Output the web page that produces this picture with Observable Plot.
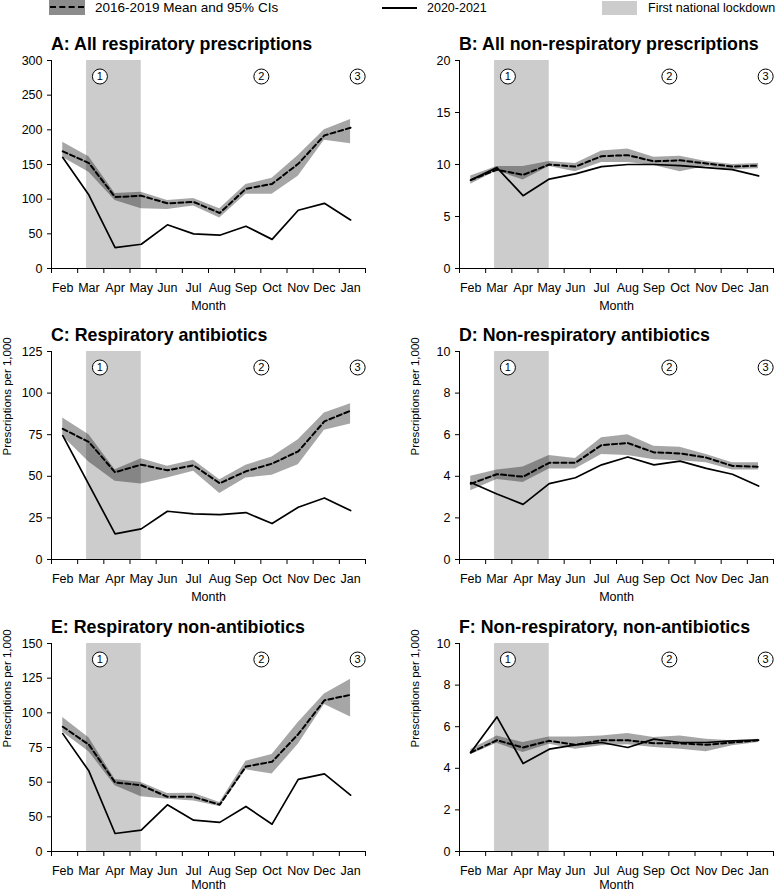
<!DOCTYPE html>
<html>
<head>
<meta charset="utf-8">
<script src="https://cdn.jsdelivr.net/npm/d3@7"></script>
<script src="https://cdn.jsdelivr.net/npm/@observablehq/plot@0.6"></script>
<style>
  html, body { margin: 0; padding: 0; background: #fff; }
  body { width: 777px; height: 891px; overflow: hidden; position: relative; font-family: "Liberation Sans", Arial, sans-serif; color: #000; }
  .panel { position: absolute; }
  .title { position: absolute; font-weight: bold; font-size: 17.8px; line-height: 17px; white-space: nowrap; }
  .legend-item { position: absolute; top: 0; height: 16px; }
  .legend-text { position: absolute; top: 1px; font-size: 12.5px; line-height: 14px; white-space: nowrap; }
</style>
</head>
<body>
<div id="root"></div>
<script>
// ---------- data ----------
const months = ["Feb","Mar","Apr","May","Jun","Jul","Aug","Sep","Oct","Nov","Dec","Jan"];

const lockdownStart = 1.34;   // in month units along the axis
const lockdownEnd = 3.43;
const eventLabels = ["1","2","3"];
const eventPos = [1.85, 8.02, 11.7];

// A: All respiratory prescriptions
const meanA = [169,152,103,105,94,96,80,115,122,151,192,203];
const hiA   = [182,161,108,110,98,101,86,121,130,163,200,215];
const loA   = [160,139,98,86,85,90,73,107,107,133,185,180];
const actA  = [160,106,30,35,63,50,48,61,42,84,94,70];

// B: All non-respiratory prescriptions
const meanB = [8.5,9.5,9.0,10.0,9.8,10.8,10.9,10.3,10.4,10.1,9.8,9.9];
const hiB   = [8.9,9.8,9.8,10.3,10.1,11.3,11.5,10.7,10.8,10.3,10.0,10.1];
const loB   = [8.1,9.4,8.5,9.8,9.3,10.2,10.2,9.9,9.3,9.8,9.5,9.6];
const actB  = [8.5,9.7,7.0,8.6,9.1,9.8,10.0,10.0,9.9,9.7,9.5,8.9];

// C: Respiratory antibiotics
const meanC = [78.5,70.6,52.4,57,53.6,56.6,45.8,53,57.6,65,83,89.4];
const hiC   = [85,75,54,60.6,56,59.6,48,56.6,61.6,72,88,93.6];
const loC   = [74,58.6,47,45.4,49,53,39.6,49,50.6,57,77.6,81.4];
const actC  = [74.4,45,15.4,18.4,29,27.4,27,28.2,21.6,31.4,37,29.4];

// D: Non-respiratory antibiotics
const meanD = [3.64,4.1,3.98,4.65,4.65,5.5,5.6,5.15,5.1,4.9,4.5,4.46];
const hiD   = [4.0,4.3,4.45,5.0,4.85,5.85,6.0,5.45,5.4,5.05,4.65,4.65];
const loD   = [3.3,3.85,3.7,4.35,4.35,5.05,5.0,4.8,4.75,4.65,4.3,4.3];
const actD  = [3.7,3.15,2.65,3.65,3.93,4.55,4.93,4.55,4.73,4.38,4.1,3.53];

// E: Respiratory non-antibiotics
const meanE = [90,77,49.8,47.8,39.4,39.4,33.7,61.3,64.7,84.6,109,113];
const hiE   = [96.6,82,52,49.8,41.8,42,35.3,65,70,93,113.5,124.3];
const loE   = [86,72,47.4,39.4,37.7,36.5,32.5,59,55.8,77.4,106,97];
const actE  = [85,58,13,15.4,33.7,22.6,21,32.5,19.7,52,56,40.6];

// F: Non-respiratory, non-antibiotics
const meanF = [4.76,5.35,5.0,5.32,5.13,5.35,5.35,5.2,5.2,5.13,5.24,5.35];
const hiF   = [4.9,5.55,5.24,5.5,5.5,5.55,5.67,5.48,5.55,5.4,5.32,5.4];
const loF   = [4.65,5.2,4.76,5.16,4.92,5.08,5.13,5.0,4.92,4.8,5.08,5.24];
const actF  = [4.76,6.47,4.23,4.92,5.13,5.24,5.0,5.4,5.24,5.24,5.32,5.35];

// tick values and labels
const ticksA = [0,50,100,150,200,250,300];
const ticksB = [0,5,10,15,20];
const ticksC = [0,25,50,75,100,125];
const ticksD = [0,2,4,6,8,10];
const ticksE = [0,25,50,75,100,125,150];
const tickLabelsE = ["0","50","50","75","100","125","150"]; // as printed in the original
const ticksF = [0,2,4,6,8,10];

const titles = [
  "A: All respiratory prescriptions",
  "B: All non-respiratory prescriptions",
  "C: Respiratory antibiotics",
  "D: Non-respiratory antibiotics",
  "E: Respiratory non-antibiotics",
  "F: Non-respiratory, non-antibiotics"
];
const yLabel = "Prescriptions per 1,000";
const xLabel = "Month";
const legendLabels = ["2016-2019 Mean and 95% CIs", "2020-2021", "First national lockdown"];

// ---------- layout ----------
const FONT = '"Liberation Sans", Arial, sans-serif';
const monthOffset = 0.43;
const plotH = 208, mTop = 10, mBottom = 46;
const rowPlotTop = [60, 350.5, 642.7];
const rowXLabelDy = [37, 37, 33];
const colGeom = [
  {left: 0, width: 390, ml: 51, mr: 25},
  {left: 390, width: 387, ml: 69, mr: 4}
];

const panels = [
  {title: titles[0], mean: meanA, hi: hiA, lo: loA, act: actA, yMax: 300, ticks: ticksA, labels: ticksA.map(String), ylab: false, row: 0, col: 0},
  {title: titles[1], mean: meanB, hi: hiB, lo: loB, act: actB, yMax: 20, ticks: ticksB, labels: ticksB.map(String), ylab: false, row: 0, col: 1},
  {title: titles[2], mean: meanC, hi: hiC, lo: loC, act: actC, yMax: 125, ticks: ticksC, labels: ticksC.map(String), ylab: true, row: 1, col: 0},
  {title: titles[3], mean: meanD, hi: hiD, lo: loD, act: actD, yMax: 10, ticks: ticksD, labels: ticksD.map(String), ylab: true, row: 1, col: 1},
  {title: titles[4], mean: meanE, hi: hiE, lo: loE, act: actE, yMax: 150, ticks: ticksE, labels: tickLabelsE, ylab: true, row: 2, col: 0},
  {title: titles[5], mean: meanF, hi: hiF, lo: loF, act: actF, yMax: 10, ticks: ticksF, labels: ticksF.map(String), ylab: true, row: 2, col: 1}
];

const events = eventLabels.map((l, i) => ({label: l, x: eventPos[i]}));
const root = document.getElementById("root");

function makePanel(p) {
  const g = colGeom[p.col];
  const plotTop = rowPlotTop[p.row];
  const rows = months.map((m, i) => ({x: i + monthOffset, mean: p.mean[i], hi: p.hi[i], lo: p.lo[i], act: p.act[i]}));
  const fmt = new Map(p.ticks.map((t, i) => [t, p.labels[i]]));
  const marks = [
    Plot.rect([[lockdownStart, lockdownEnd]], {x1: d => d[0], x2: d => d[1], y1: () => 0, y2: () => p.yMax, fill: "#cccccc"}),
    Plot.areaY(rows, {x: "x", y1: "lo", y2: "hi", fill: "#000", fillOpacity: 0.35}),
    Plot.line(rows, {x: "x", y: "mean", stroke: "#000", strokeWidth: 2, strokeDasharray: "5,3"}),
    Plot.line(rows, {x: "x", y: "act", stroke: "#000", strokeWidth: 1.7}),
    Plot.ruleY([0], {stroke: "#000", strokeWidth: 1}),
    Plot.ruleX([0], {stroke: "#000", strokeWidth: 1}),
    Plot.axisX({ticks: d3.range(13), tickSize: 5, tickFormat: () => "", label: null}),
    Plot.axisX({ticks: months.map((m, i) => i + monthOffset), tickSize: 0, tickPadding: 15,
      tickFormat: d => months[Math.round(d - monthOffset)], label: null, fontSize: 12.5}),
    Plot.axisY({ticks: p.ticks, tickSize: 4, tickPadding: 5, tickFormat: d => fmt.get(d), label: null, fontSize: 12.5}),
    Plot.text([xLabel], {text: d => d, frameAnchor: "bottom", lineAnchor: "middle", dy: rowXLabelDy[p.row], fontSize: 12.5}),
    Plot.dot(events, {x: "x", frameAnchor: "top", dy: 16, r: 7.5, fill: "white", stroke: "#000", strokeWidth: 1}),
    Plot.text(events, {x: "x", text: "label", frameAnchor: "top", lineAnchor: "middle", dy: 16, fontSize: 11})
  ];
  if (p.ylab) {
    marks.push(Plot.text([yLabel], {text: d => d, frameAnchor: "left", lineAnchor: "middle", dx: -44, rotate: -90, fontSize: 11.5}));
  }
  const chart = Plot.plot({
    width: g.width,
    height: mTop + plotH + mBottom,
    marginTop: mTop, marginBottom: mBottom, marginLeft: g.ml, marginRight: g.mr,
    x: {domain: [0, 12]},
    y: {domain: [0, p.yMax]},
    style: {fontFamily: FONT, fontSize: "12.5px", color: "#000", background: "transparent", overflow: "visible"},
    marks
  });
  const wrap = document.createElement("div");
  wrap.className = "panel";
  wrap.style.left = g.left + "px";
  wrap.style.top = (plotTop - mTop) + "px";
  wrap.appendChild(chart);
  root.appendChild(wrap);

  const t = document.createElement("div");
  t.className = "title";
  t.textContent = p.title;
  t.style.left = (g.left + g.ml) + "px";
  t.style.top = (plotTop - 24) + "px";
  root.appendChild(t);
}
panels.forEach(makePanel);

// ---------- legend ----------
function legendItem(left, swatchHtml, textLeft, label, fs) {
  const d = document.createElement("div");
  d.className = "legend-item";
  d.style.left = left + "px";
  d.innerHTML = swatchHtml;
  root.appendChild(d);
  const t = document.createElement("div");
  t.className = "legend-text";
  t.style.left = textLeft + "px";
  t.style.fontSize = fs + "px";
  t.textContent = label;
  root.appendChild(t);
}
legendItem(49, '<div style="width:36px;height:15px;background:#8c8c8c;position:relative"><div style="position:absolute;left:1px;right:1px;top:6px;border-top:2px dashed #000"></div></div>', 95, legendLabels[0], 13.5);
legendItem(382, '<div style="width:35px;height:0;margin-top:7px;border-top:2px solid #000"></div>', 427, legendLabels[1], 12.5);
legendItem(602, '<div style="width:35px;height:14px;margin-top:1px;background:#cccccc"></div>', 648, legendLabels[2], 12.5);
</script>
</body>
</html>
